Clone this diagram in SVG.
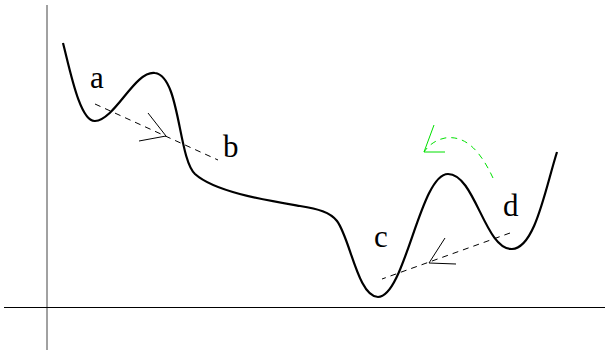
<svg xmlns="http://www.w3.org/2000/svg" width="605" height="352" viewBox="0 0 605 352">
<style>
.lbl{font-family:"Liberation Serif",serif;font-size:31px;fill:#000}
.dash{fill:none;stroke:#000;stroke-width:1;stroke-dasharray:6,5}
.head{fill:none;stroke:#000;stroke-width:1}
.gdash{fill:none;stroke:#00e000;stroke-width:1;stroke-dasharray:6,5}
.ghead{fill:none;stroke:#00e000;stroke-width:1}
</style>
<rect width="605" height="352" fill="#fff"/>
<g id="axes">
<line x1="47" y1="5" x2="47" y2="350" stroke="#444" stroke-width="1"/>
<line x1="4" y1="307.5" x2="605" y2="307.5" stroke="#000" stroke-width="1"/>
</g>
<g id="curve">
<path d="M63,43 C70,70 80,122 95,121 C115,120 135,70 155,73 C180,76 178,158 195,174 C215,192 265,200 300,206 C318,209 330,212 337,221 C350,238 358,297 378,297 C405,297 420,174 448,174 C475,174 485,250 512,249 C535,248 545,190 557,152" fill="none" stroke="#000" stroke-width="2.2"/>
</g>
<g id="connectors">
<g id="ab">
<line class="dash" x1="95" y1="104" x2="218" y2="160"/>
<polyline class="head" points="148,113 166,136 139,141"/>
</g>
<g id="dc">
<line class="dash" x1="510" y1="233" x2="382" y2="279"/>
<polyline class="head" points="445,238 429,263 456,264"/>
</g>
<g id="green">
<path class="gdash" d="M493,178 C480,150 465,135 445,138 C435,140 428,146 424,152"/>
<polyline class="ghead" points="434,125 424,152 445,152"/>
</g>
</g>
<g id="labels">
<text class="lbl" x="90" y="88">a</text>
<text class="lbl" x="223" y="157">b</text>
<text class="lbl" x="374" y="247">c</text>
<text class="lbl" x="503" y="216">d</text>
</g>
</svg>
